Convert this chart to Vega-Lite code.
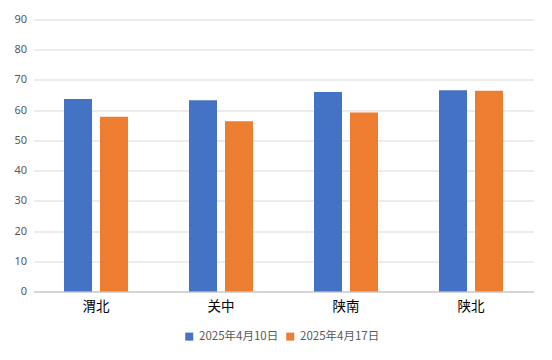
{
  "$schema": "https://vega.github.io/schema/vega-lite/v6.json",
  "autosize": {"type": "none"},
  "width": 500,
  "height": 272,
  "padding": {"left": 33.5, "top": 19.5, "right": 18.5, "bottom": 68.5},
  "background": "#ffffff",
  "data": {
    "values": [
      {"region": "渭北", "date": "2025年4月10日", "value": 63.7},
      {"region": "渭北", "date": "2025年4月17日", "value": 57.8},
      {"region": "关中", "date": "2025年4月10日", "value": 63.3},
      {"region": "关中", "date": "2025年4月17日", "value": 56.3},
      {"region": "陕南", "date": "2025年4月10日", "value": 66.0},
      {"region": "陕南", "date": "2025年4月17日", "value": 59.2},
      {"region": "陕北", "date": "2025年4月10日", "value": 66.6},
      {"region": "陕北", "date": "2025年4月17日", "value": 66.4}
    ]
  },
  "mark": {"type": "bar"},
  "encoding": {
    "x": {
      "field": "region",
      "type": "nominal",
      "sort": ["渭北", "关中", "陕南", "陕北"],
      "scale": {"paddingInner": 0, "paddingOuter": 0},
      "axis": {
        "title": null,
        "labelAngle": 0,
        "ticks": false,
        "domainColor": "#bfbfbf",
        "labelColor": "#000000",
        "labelFontSize": 13.5,
        "labelFont": "Noto Sans CJK SC",
        "labelPadding": 8
      }
    },
    "xOffset": {
      "field": "date",
      "type": "nominal",
      "scale": {"paddingInner": 0.222, "paddingOuter": 0.847}
    },
    "y": {
      "field": "value",
      "type": "quantitative",
      "scale": {"domain": [0, 90], "nice": false},
      "axis": {
        "title": null,
        "values": [0, 10, 20, 30, 40, 50, 60, 70, 80, 90],
        "ticks": false,
        "domain": false,
        "gridColor": "#d9d9d9",
        "labelColor": "#595959",
        "labelFontSize": 11,
        "labelFont": "Noto Sans",
        "labelPadding": 7
      }
    },
    "color": {
      "field": "date",
      "type": "nominal",
      "scale": {"range": ["#4472c4", "#ed7d31"]},
      "legend": {
        "title": null,
        "orient": "none",
        "legendX": 150,
        "legendY": 311,
        "direction": "horizontal",
        "symbolType": "square",
        "symbolSize": 64,
        "symbolStrokeWidth": 0,
        "labelColor": "#595959",
        "labelFontSize": 11.5,
        "labelFont": "Noto Sans CJK SC",
        "labelOffset": 4,
        "columnPadding": 6
      }
    }
  },
  "config": {"view": {"stroke": null}}
}
